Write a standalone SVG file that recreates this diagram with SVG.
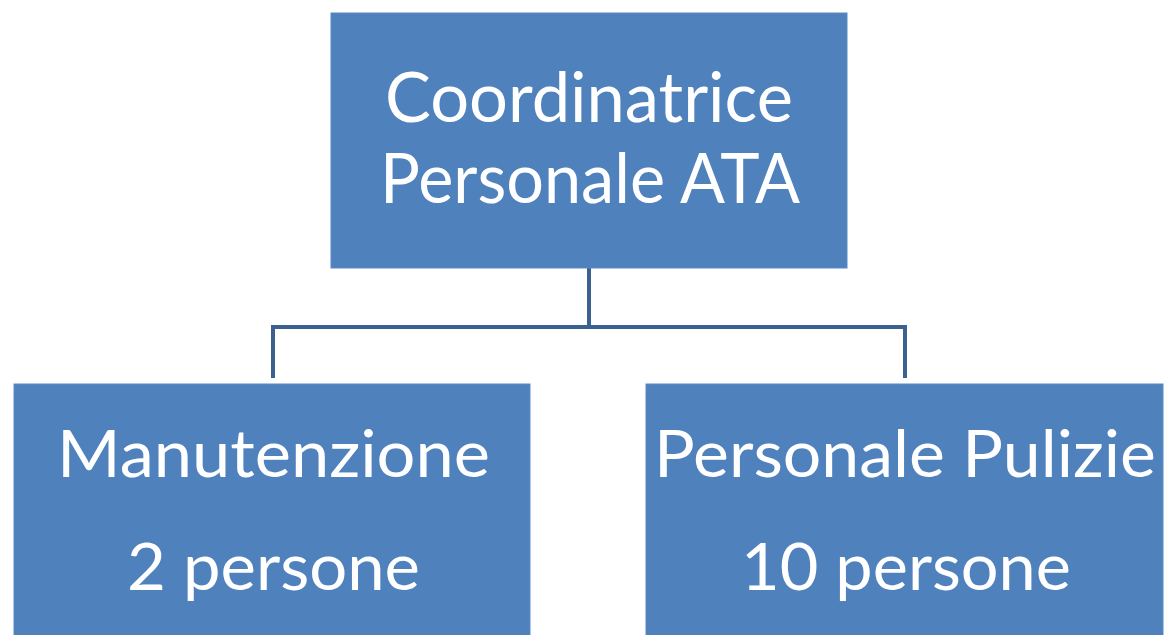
<svg xmlns="http://www.w3.org/2000/svg" width="1164" height="635" viewBox="0 0 1164 635">
<style>
.box{fill:#4F81BD;stroke:#5B8AC4;stroke-width:1}
.t{fill:#FFFFFF;font-family:Lato,"Open Sans","Liberation Sans",sans-serif;text-anchor:middle}
.conn{fill:none;stroke:#3B6191;stroke-width:4}
</style>
<rect width="1164" height="635" fill="#FFFFFF"/>
<g id="connectors">
<path class="conn" d="M589,268 V327 M273,378 V327 H905 V378"/>
</g>
<g id="node-coordinatrice">
<rect class="box" x="331" y="13" width="516" height="255"/>
<text class="t" x="589" y="122" font-size="69" textLength="408" lengthAdjust="spacingAndGlyphs">Coordinatrice</text>
<text class="t" x="590" y="203" font-size="69" textLength="420" lengthAdjust="spacingAndGlyphs">Personale ATA</text>
</g>
<g id="node-manutenzione">
<rect class="box" x="14" y="384" width="516" height="260"/>
<text class="t" x="273.5" y="477" font-size="66" textLength="433" lengthAdjust="spacingAndGlyphs">Manutenzione</text>
<text class="t" x="273.5" y="590" font-size="66" textLength="293" lengthAdjust="spacingAndGlyphs">2 persone</text>
</g>
<g id="node-pulizie">
<rect class="box" x="646" y="384" width="517" height="260"/>
<text class="t" x="905" y="477" font-size="66" textLength="502" lengthAdjust="spacingAndGlyphs">Personale Pulizie</text>
<text class="t" x="906" y="590" font-size="66" textLength="330" lengthAdjust="spacingAndGlyphs">10 persone</text>
</g>
</svg>
